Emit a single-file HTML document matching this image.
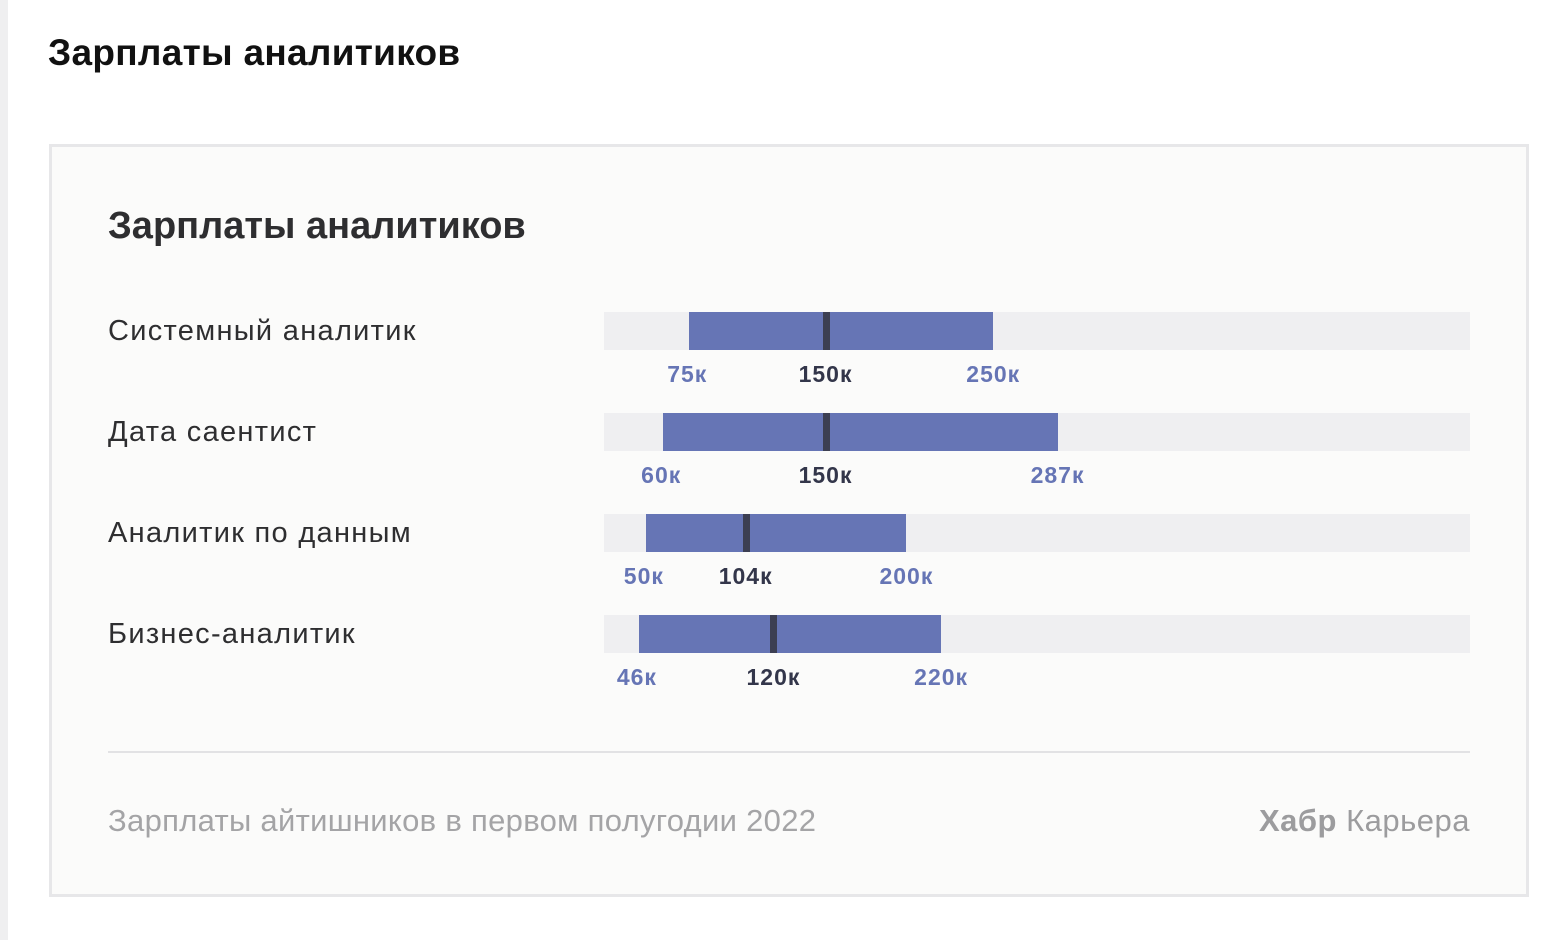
<!DOCTYPE html>
<html><head><meta charset="utf-8">
<style>
html,body{margin:0;padding:0;width:1564px;height:940px;background:#fff;overflow:hidden;font-family:"Liberation Sans","DejaVu Sans",sans-serif;}
#strip{position:absolute;left:0;top:0;width:8px;height:940px;background:#efeff0;}
#page-title{position:absolute;left:48px;top:32px;font-size:37px;font-weight:bold;color:#111;letter-spacing:0.3px;}
#card{position:absolute;left:49px;top:144px;width:1474px;height:747px;border:3px solid #e7e7e9;background:#fbfbfa;}
#card-title{position:absolute;left:56px;top:58px;font-size:38px;font-weight:bold;color:#2e2e30;}
.label{position:absolute;left:56px;font-size:29px;letter-spacing:1.3px;color:#2e2e30;}
.track{position:absolute;left:552px;width:866px;height:38px;background:#efeff1;}
.bar{position:absolute;height:38px;background:#6675b5;}
.med{position:absolute;width:7px;height:38px;background:#3c3f52;}
.val{position:absolute;font-size:23px;letter-spacing:1px;font-weight:bold;transform:translateX(-50%);white-space:nowrap;}
#divider{position:absolute;left:56px;top:604px;width:1362px;height:2px;background:#e2e2e4;}
#footnote{position:absolute;left:56px;top:656px;font-size:31px;letter-spacing:0.3px;color:#a4a4a6;}
#brand{position:absolute;right:56px;top:656px;font-size:31px;letter-spacing:0.5px;color:#9c9c9e;}
</style></head>
<body>
<div id="strip"></div>
<div id="page-title">Зарплаты аналитиков</div>
<div id="card">
  <div id="card-title">Зарплаты аналитиков</div>
  <div id="rows"></div>
  <div id="divider"></div>
  <div id="footnote">Зарплаты айтишников в первом полугодии 2022</div>
  <div id="brand"><b>Хабр</b> Карьера</div>
</div>
<script>
const categories = ["Системный аналитик","Дата саентист","Аналитик по данным","Бизнес-аналитик"];
const minValues = [75,60,50,46];
const medianValues = [150,150,104,120];
const maxValues = [250,287,200,220];

function xScale(v){ return 507 + 1.737*v; }
function rowTop(i){ return 165 + i*101; }

const rows = document.getElementById('rows');
categories.forEach((c,i)=>{
  const t = rowTop(i);
  const lab = document.createElement('div');
  lab.className='label';
  lab.style.top=(t+3)+'px';
  lab.textContent=c;
  
  
  rows.appendChild(lab);

  const tr = document.createElement('div');
  tr.className='track';
  tr.style.top=t+'px';
  
  
  rows.appendChild(tr);

  const b = document.createElement('div');
  b.className='bar';
  b.style.top=t+'px';
  b.style.left=xScale(minValues[i])+'px';
  b.style.width=(xScale(maxValues[i])-xScale(minValues[i]))+'px';
  
  
  rows.appendChild(b);

  const m = document.createElement('div');
  m.className='med';
  m.style.top=t+'px';
  m.style.left=(xScale(medianValues[i])+3)+'px';
  
  
  rows.appendChild(m);

  [[minValues[i],'#6675b5',-2],[medianValues[i],'#33364a',6],[maxValues[i],'#6675b5',0]].forEach(([v,col,off])=>{
    const l=document.createElement('div');
    l.className='val';
    l.style.top=(t+49)+'px';
    l.style.left=(xScale(v)+off)+'px';
    l.style.color=col;
    l.textContent=v+'к';
    
    
    rows.appendChild(l);
  });
});
</script>
</body></html>
